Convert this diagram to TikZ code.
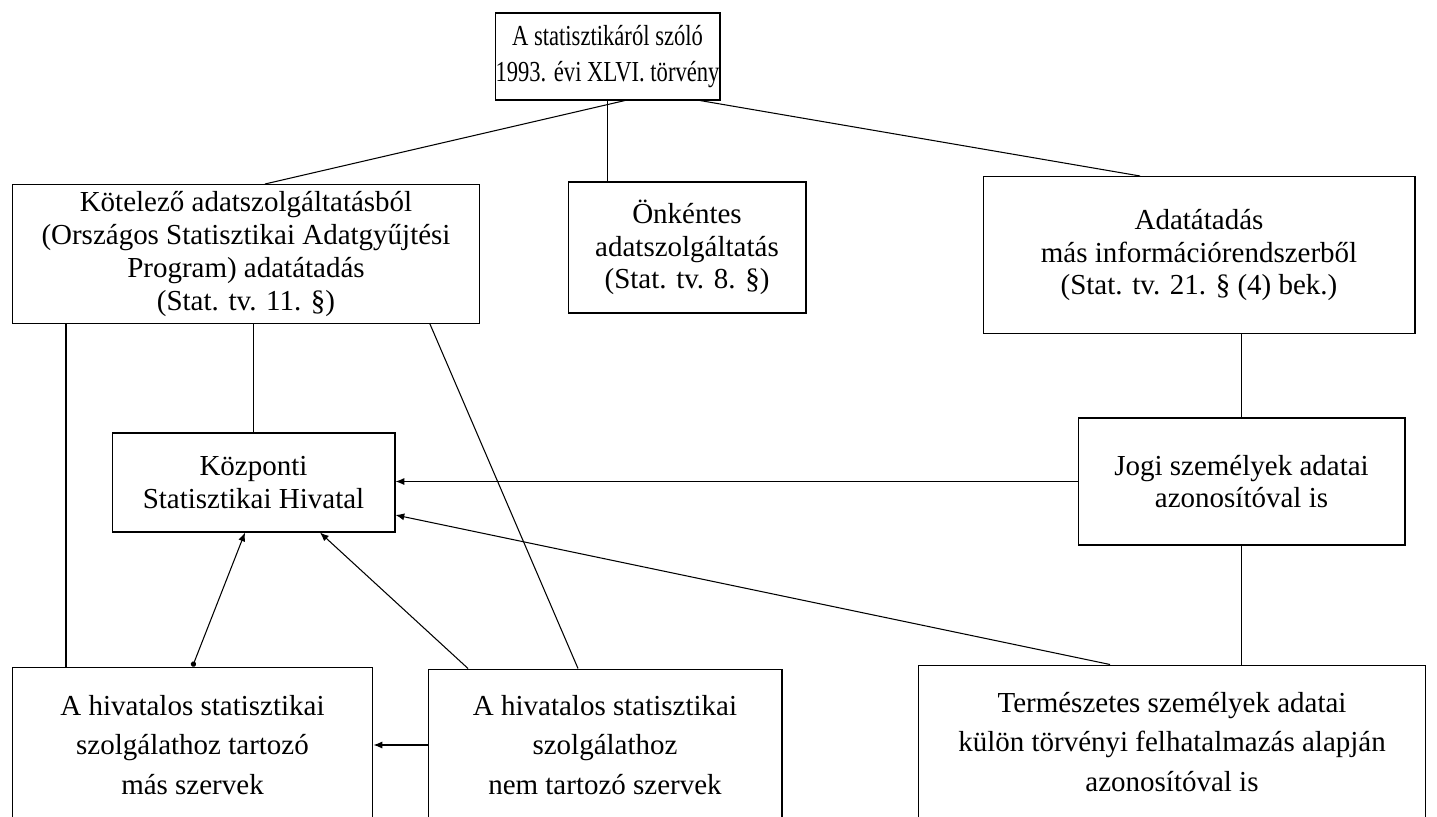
\documentclass[tikz,border=0pt]{standalone}
\usepackage{fontspec}
\setmainfont{Liberation Serif}
\usetikzlibrary{arrows.meta}

\begin{document}
\begin{tikzpicture}[x=0.02cm,y=-0.02cm,line width=0.6pt,
    every node/.style={draw,align=center,inner sep=0,font=\fontsize{16.5}{18.6}\selectfont},
    wide/.style={font=\fontsize{16.5}{22.6}\selectfont},
    arr/.style={-{Latex[length=5pt,width=4pt]}}]
        \useasboundingbox (0,0) rectangle (1437,816);
        \node[minimum width=4.5cm,minimum height=1.74cm] (law) at (607.5,56.5) {\scalebox{0.78}[1]{\begin{tabular}{@{}c@{}}A statisztikáról szóló\\[0.25ex]1993. évi XLVI. törvény\end{tabular}}};
        \node[minimum width=9.36cm,minimum height=2.78cm] (oblig) at (246,254) {Kötelező adatszolgáltatásból\\(Országos Statisztikai Adatgyűjtési\\Program) adatátadás\\(Stat. tv. 11. §)};
        \node[minimum width=4.76cm,minimum height=2.62cm] (volunt) at (687,247.5) {Önkéntes\\adatszolgáltatás\\(Stat. tv. 8. §)};
        \node[minimum width=8.64cm,minimum height=3.14cm] (transfer) at (1199,255) {Adatátadás\\más információrendszerből\\(Stat. tv. 21. § (4) bek.)};
        \node[minimum width=5.66cm,minimum height=1.98cm] (ksh) at (253.5,482.5) {Központi\\Statisztikai Hivatal};
        \node[minimum width=6.54cm,minimum height=2.54cm] (legal) at (1241.5,481.5) {Jogi személyek adatai\\azonosítóval is};
        \node[wide,minimum width=7.22cm,minimum height=3.12cm] (other) at (192.5,745) {A hivatalos statisztikai\\szolgálathoz tartozó\\más szervek};
        \node[wide,minimum width=7.08cm,minimum height=3.04cm] (nonmember) at (605,745) {A hivatalos statisztikai\\szolgálathoz\\nem tartozó szervek};
        \node[wide,minimum width=10.16cm,minimum height=3.08cm] (natural) at (1172,742) {Természetes személyek adatai\\külön törvényi felhatalmazás alapján\\azonosítóval is};
        \draw ([xshift=0.35cm]law.south) -- ([xshift=0.38cm]oblig.north);
        \draw (law.south) -- (law.south |- volunt.north);
        \draw ([xshift=1.85cm]law.south) -- ([xshift=-1.18cm]transfer.north);
        \draw (ksh.north) -- (ksh.north |- oblig.south);
        \draw ([xshift=-2.53cm]other.north) -- ([xshift=-2.53cm]other.north |- oblig.south);
        \draw ([xshift=3.68cm]oblig.south) -- ([xshift=-0.54cm]nonmember.north);
        \draw (legal.north) -- (legal.north |- transfer.south);
        \draw (legal.south) -- (legal.south |- natural.north);
        \draw[arr] (legal.west) -- (legal.west -| ksh.east);
        \draw[arr] ([xshift=-1.24cm]natural.north) -- ([yshift=-0.65cm]ksh.east);
        \draw[{Circle[length=3pt]}-{Latex[length=5pt,width=4pt]}] (other.north) -- ([xshift=-0.17cm]ksh.south);
        \draw[arr] ([xshift=-2.74cm]nonmember.north) -- ([xshift=1.33cm]ksh.south);
        \draw[arr] (nonmember.west) -- (nonmember.west -| other.east);
      \end{tikzpicture}
\end{document}
